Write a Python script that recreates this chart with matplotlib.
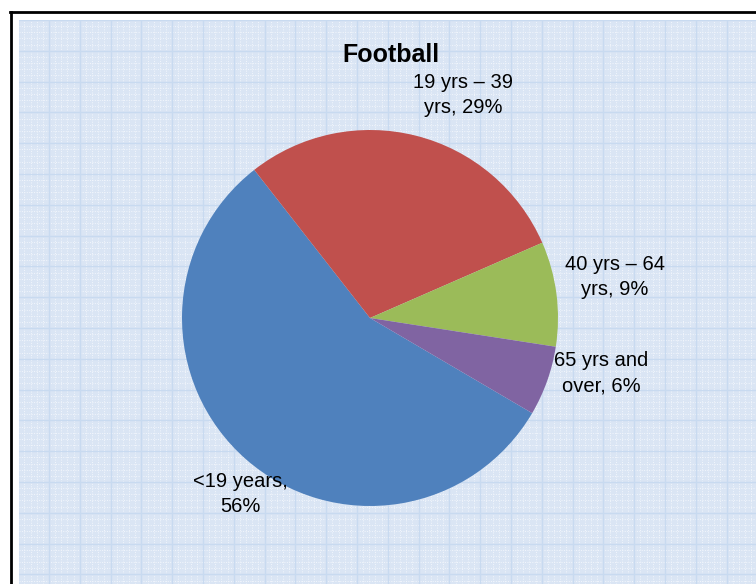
import numpy as np
import matplotlib
matplotlib.use("Agg")
import matplotlib.pyplot as plt
from matplotlib.lines import Line2D

plt.rcParams['font.family'] = ['Liberation Sans', 'DejaVu Sans']

# data
title = "Football"
categories = ["<19 years,", "19 yrs \u2013 39\nyrs,", "40 yrs \u2013 64\nyrs,", "65 yrs and\nover,"]
values = [56, 29, 9, 6]
colors = ["#4f81bd", "#c0504d", "#9bbb59", "#8064a2"]

W, H = 756, 584
fig = plt.figure(figsize=(W/100, H/100), dpi=100)
fig.patch.set_facecolor("white")

# plot area background with graph paper grid (pixel coords)
bg = fig.add_axes([19/W, 0, 1-19/W, (H-20)/H])
bg.set_xlim(19, W)
bg.set_ylim(H, 20)
bg.set_facecolor("#dae5f4")
for x in np.arange(18.2, W, 30.8/5):
    bg.axvline(x, color="#f2f6fc", lw=0.7, ls=(0, (1, 1.5)))
for y in np.arange(20, H, 30.8/5):
    bg.axhline(y, color="#f2f6fc", lw=0.7, ls=(0, (1, 1.5)))
for x in np.arange(18.2, W, 30.8):
    bg.axvline(x, color="#c8daf0", lw=1.0)
for y in np.arange(20, H, 30.8):
    bg.axhline(y, color="#c8daf0", lw=1.0)
bg.set_xticks([]); bg.set_yticks([])
for s in bg.spines.values():
    s.set_visible(False)

# chart border (cut off at right and bottom)
fig.add_artist(Line2D([11/W, 11/W], [0, 1-12/H], color="black", lw=2, transform=fig.transFigure))
fig.add_artist(Line2D([10/W, 1], [1-12/H, 1-12/H], color="black", lw=2, transform=fig.transFigure))

# pie
cx, cy, r = 370, 318, 188
ax = fig.add_axes([(cx-r)/W, (H-cy-r)/H, 2*r/W, 2*r/H])
ax.pie(values, colors=colors, startangle=-30.4, counterclock=False,
       wedgeprops=dict(linewidth=0))
ax.set_aspect("equal")
ax.set_xlim(-1, 1); ax.set_ylim(-1, 1)
ax.axis("off")

# labels
over = fig.add_axes([0, 0, 1, 1], facecolor="none")
over.set_xlim(0, W); over.set_ylim(H, 0); over.axis("off")
over.text(391, 55, title, fontsize=18, fontweight="bold", ha="center", va="center")
label_pos = [(240, 494), (463, 95), (615, 277), (601, 373)]
for (lx, ly), cat, v in zip(label_pos, categories, values):
    if "\n" in cat:
        txt = f"{cat} {v}%"
    else:
        txt = f"{cat}\n{v}%"
    over.text(lx, ly, txt, fontsize=14.5, ha="center", va="center", linespacing=1.45)

fig.savefig("out.png", dpi=100)
